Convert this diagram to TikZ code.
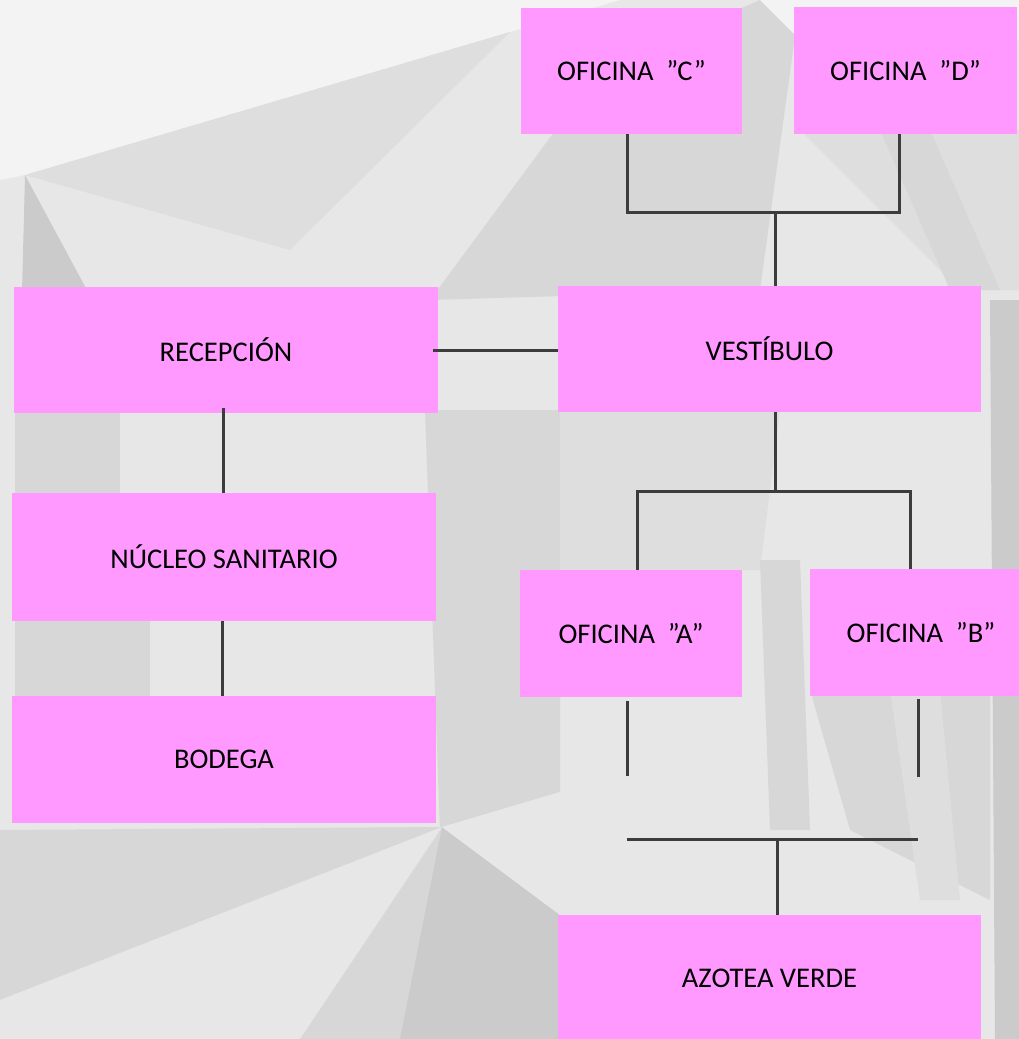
\documentclass[tikz,border=0pt]{standalone}
\usepackage{fontspec}
\setmainfont{Carlito}
\definecolor{boxpink}{HTML}{FF99FF}
\definecolor{linegray}{HTML}{3C3C3C}
\definecolor{bgA}{HTML}{F3F3F3}
\definecolor{bgB}{HTML}{E7E7E7}
\definecolor{bgC}{HTML}{DEDEDE}
\definecolor{bgD}{HTML}{D7D7D7}
\definecolor{bgE}{HTML}{CBCBCB}
\begin{document}
\begin{tikzpicture}[x=1pt,y=-1pt,
  room/.style={fill=boxpink, inner sep=0pt, text=black, font=\fontsize{28.5}{34}\selectfont},
  link/.style={draw=linegray, line width=3pt}]
\useasboundingbox (0,0) rectangle (1019,1039);
\clip (0,0) rectangle (1019,1039);
% ---------- background (low-poly grey) ----------
\fill[bgB] (0,0) rectangle (1019,1039);
\fill[bgA] (0,0) -- (620,0) -- (510,32) -- (25,175) -- (0,180) -- cycle;
\fill[bgC] (25,175) -- (510,32) -- (290,250) -- cycle;
\fill[bgE] (25,175) -- (88,292) -- (22,292) -- cycle;
\fill[bgD] (430,300) -- (600,70) -- (760,0) -- (800,0) -- (760,290) -- cycle;
\fill[bgA] (760,0) -- (1019,0) -- (1019,40) -- (800,40) -- cycle;
\fill[bgC] (800,130) -- (1019,130) -- (1019,290) -- (960,290) -- cycle;
\fill[bgD] (880,130) -- (930,130) -- (1000,290) -- (950,290) -- cycle;
\fill[bgD] (425,410) -- (560,410) -- (560,830) -- (440,830) -- cycle;
\fill[bgC] (560,410) -- (780,410) -- (760,570) -- (560,570) -- cycle;
\fill[bgE] (990,300) -- (1019,300) -- (1019,1039) -- (995,1039) -- cycle;
\fill[bgD] (760,560) -- (800,560) -- (810,830) -- (770,830) -- cycle;
\fill[bgD] (810,690) -- (990,690) -- (990,900) -- (850,830) -- cycle;
\fill[bgC] (890,690) -- (940,690) -- (960,900) -- (920,900) -- cycle;
\fill[bgD] (15,412) -- (120,412) -- (120,493) -- (15,493) -- cycle;
\fill[bgD] (15,621) -- (150,621) -- (150,696) -- (15,696) -- cycle;
\fill[bgD] (0,830) -- (442,827) -- (560,915) -- (560,1039) -- (0,1039) -- cycle;
\fill[bgB] (0,1000) -- (442,827) -- (300,1039) -- (0,1039) -- cycle;
\fill[bgE] (442,827) -- (560,915) -- (560,1039) -- (400,1039) -- cycle;
\fill[bgB] (442,827) -- (600,780) -- (760,830) -- (560,915) -- cycle;
% ---------- rooms ----------
\node[room, minimum width=221pt, minimum height=126pt] (c)   at (631.5,71)  {OFICINA\hspace{0.45em}”C”};
\node[room, minimum width=223pt, minimum height=127pt] (d)   at (905.5,70.5) {OFICINA\hspace{0.45em}”D”};
\node[room, minimum width=424pt, minimum height=126pt] (rec) at (226,350)   {RECEPCIÓN};
\node[room, minimum width=423pt, minimum height=126pt] (ves) at (769.5,349) {VESTÍBULO};
\node[room, minimum width=424pt, minimum height=128pt] (nuc) at (224,557)   {NÚCLEO SANITARIO};
\node[room, minimum width=424pt, minimum height=127pt] (bod) at (224,759.5) {BODEGA};
\node[room, minimum width=222pt, minimum height=127pt] (a)   at (631,633.5) {OFICINA\hspace{0.45em}”A”};
\node[room, minimum width=222pt, minimum height=127pt] (b)   at (921,632.5) {OFICINA\hspace{0.45em}”B”};
\node[room, minimum width=423pt, minimum height=126pt] (azo) at (769.5,978) {AZOTEA VERDE};
% ---------- connectors ----------
\coordinate (jcd) at (775,212);
\draw[link] ([xshift=-4.5pt]c.south) |- (jcd) -| ([xshift=-6.5pt]d.south);
\draw[link] (jcd) -- (jcd |- ves.north);
\draw[link] ([xshift=-5pt]rec.east) -- (rec.east -| ves.west);
\draw[link] ([xshift=-3pt,yshift=5pt]rec.south) -- ([xshift=-1pt]nuc.north);
\draw[link] ([xshift=-2pt]nuc.south) -- ([xshift=-2pt]bod.north);
\coordinate (jab) at (775,491);
\draw[link] ([xshift=5.5pt]ves.south) -- (jab);
\draw[link] ([xshift=6.5pt]a.north) |- (jab) -| ([xshift=-11pt]b.north);
\coordinate (aend) at (627,776);
\coordinate (bend) at (918,777);
\draw[link] ([xshift=-4pt,yshift=-4pt]a.south) -- (aend);
\draw[link] ([xshift=-3pt,yshift=-3pt]b.south) -- (bend);
\coordinate (hl) at (627,839);
\coordinate (hr) at (918,839);
\draw[link] (hl) -- (hr);
\coordinate (jaz) at (777,839);
\draw[link] (jaz) -- (jaz |- azo.north);
\end{tikzpicture}
\end{document}
